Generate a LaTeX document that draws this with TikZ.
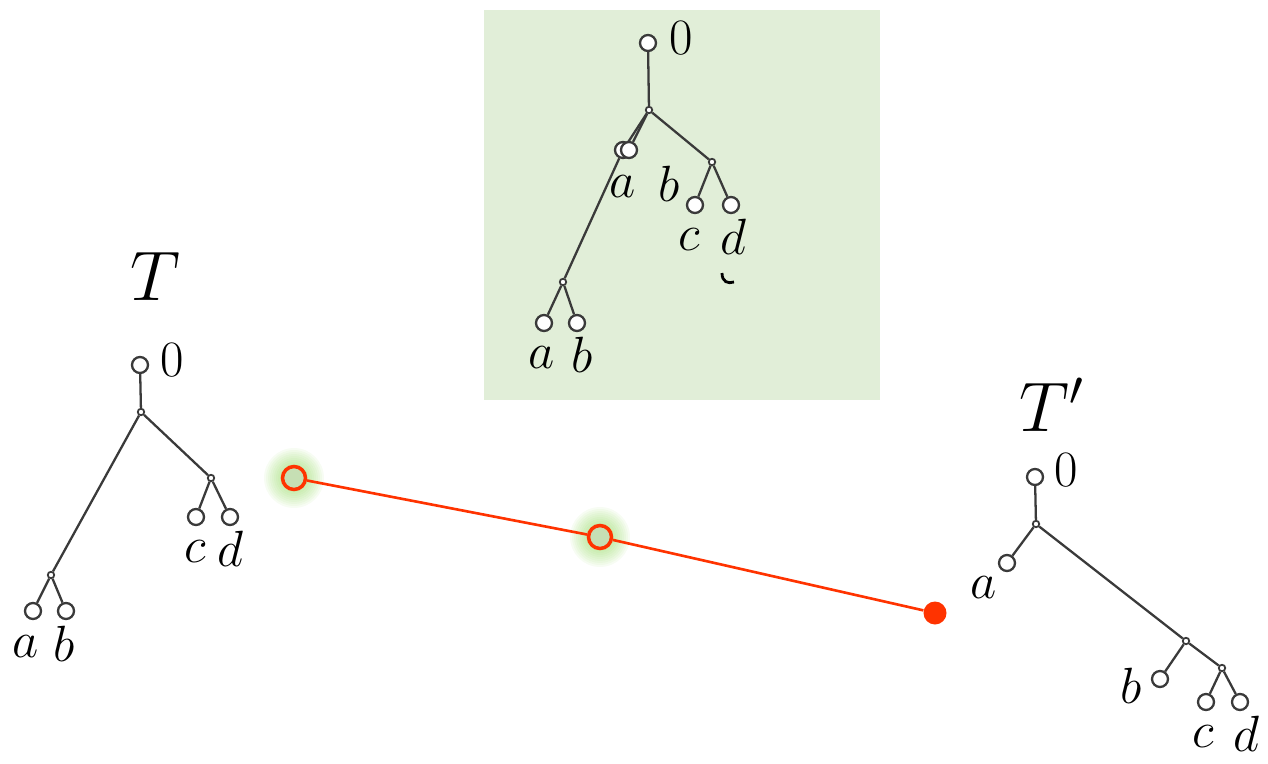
\RequirePackage{fix-cm}
\documentclass[tikz,border=0pt]{standalone}
\usepackage{amsmath, amssymb}
\usepackage{xcolor}
\usepackage{tikz}
\definecolor{edgegray}{HTML}{3A3A3A}
\definecolor{boxgreen}{HTML}{E1EED8}
\definecolor{pathred}{HTML}{FF3300}
\definecolor{glowgreen}{HTML}{8FD85A}
\definecolor{holefill}{HTML}{C6DFB4}

\begin{document}
\begin{tikzpicture}[x=0.02cm, y=-0.02cm,
    leaf/.style={circle, draw=edgegray, fill=white, line width=1.3pt, minimum size=0.32cm, inner sep=0pt},
    joint/.style={circle, draw=edgegray, fill=white, line width=1pt, minimum size=0.13cm, inner sep=0pt},
    lbl/.style={inner sep=0pt, font=\fontsize{29}{32}\selectfont},
    title/.style={inner sep=0pt, font=\fontsize{40}{44}\selectfont},
    branch/.style={draw=edgegray, line width=1.3pt},
    hole/.style={circle, draw=pathred, fill=holefill, line width=2pt, minimum size=0.46cm, inner sep=0pt},
    stop/.style={circle, fill=pathred, minimum size=0.46cm, inner sep=0pt}]
    \useasboundingbox (0,0) rectangle (1268,764);
    \fill[boxgreen] (484,10) rectangle (880,400);

    % glow behind the two path points
    \foreach \cx/\cy in {294/478, 600/537}
        \foreach \r in {2,4,...,30}
            \fill[glowgreen, opacity=0.07] (\cx,\cy) circle (\r);

    % tree T
    \node (T) [title] at (155,276) {$T$};
    \node (tzero) [leaf] at (140,365) {};
    \node (tzerol) [lbl] at (172,360) {$0$};
    \node (troot) [joint] at (141,412) {};
    \node (tcd) [joint] at (211,478) {};
    \node (tab) [joint] at (51,575) {};
    \node (tc) [leaf] at (196,517) {};
    \node (td) [leaf] at (230,517) {};
    \node (ta) [leaf] at (33,611) {};
    \node (tb) [leaf] at (66,611) {};
    \node (tcl) [lbl] at (195,552) {$c$};
    \node (tdl) [lbl] at (230,549) {$d$};
    \node (tal) [lbl] at (26,647) {$a$};
    \node (tbl) [lbl] at (64,644) {$b$};
    \draw[branch] (tzero) -- (troot);
    \draw[branch] (troot) -- (tcd);
    \draw[branch] (troot) -- (tab);
    \draw[branch] (tcd) -- (tc);
    \draw[branch] (tcd) -- (td);
    \draw[branch] (tab) -- (ta);
    \draw[branch] (tab) -- (tb);

    % tree in the box
    \node (mzero) [leaf] at (648,43) {};
    \node (mzerol) [lbl] at (681,38) {$0$};
    \node (mroot) [joint] at (649,110) {};
    \node (mcd) [joint] at (712,162) {};
    \node (mab) [joint] at (563,282) {};
    \node (mcut) [leaf] at (623,150) {};
    \node (mcuttwo) [leaf] at (629,150) {};
    \node (mc) [leaf] at (695,205) {};
    \node (md) [leaf] at (731,205) {};
    \node (ma) [leaf] at (544,323) {};
    \node (mb) [leaf] at (577,323) {};
    \node (mcutal) [lbl] at (623,187) {$a$};
    \node (mcutbl) [lbl] at (669,184) {$b$};
    \node (mcl) [lbl] at (689,240) {$c$};
    \node (mdl) [lbl] at (733,237) {$d$};
    \node (mal) [lbl] at (542,358) {$a$};
    \node (mbl) [lbl] at (582,355) {$b$};
    \draw[branch] (mzero) -- (mroot);
    \draw[branch] (mroot) -- (mcut);
    \draw[branch] (mroot) -- (mcuttwo);
    \draw[branch] (mroot) -- (mcd);
    \draw[branch] (mcut) -- (mab);
    \draw[branch] (mcd) -- (mc);
    \draw[branch] (mcd) -- (md);
    \draw[branch] (mab) -- (ma);
    \draw[branch] (mab) -- (mb);
    \draw[line width=1.6pt] (722,273) .. controls (722,282) and (728,284) .. (734,282);

    % tree T'
    \node (Tp) [title] at (1052,405) {$T'$};
    \node (pzero) [leaf] at (1035,477) {};
    \node (pzerol) [lbl] at (1066,470) {$0$};
    \node (proot) [joint] at (1036,524) {};
    \node (pa) [leaf] at (1007,563) {};
    \node (pal) [lbl] at (984,588) {$a$};
    \node (pbcd) [joint] at (1186,641) {};
    \node (pb) [leaf] at (1160,679) {};
    \node (pbl) [lbl] at (1131,686) {$b$};
    \node (pcd) [joint] at (1222,668) {};
    \node (pc) [leaf] at (1206,702) {};
    \node (pd) [leaf] at (1240,702) {};
    \node (pcl) [lbl] at (1203,737) {$c$};
    \node (pdl) [lbl] at (1246,734) {$d$};
    \draw[branch] (pzero) -- (proot);
    \draw[branch] (proot) -- (pa);
    \draw[branch] (proot) -- (pbcd);
    \draw[branch] (pbcd) -- (pb);
    \draw[branch] (pbcd) -- (pcd);
    \draw[branch] (pcd) -- (pc);
    \draw[branch] (pcd) -- (pd);

    % path between the trees
    \node (start) [hole] at (294,478) {};
    \node (mid) [hole] at (600,537) {};
    \node (end) [stop] at (935,613) {};
    \draw[pathred, line width=1.5pt] (start) -- (mid);
    \draw[pathred, line width=1.5pt] (mid) -- (end);
\end{tikzpicture}
\end{document}
